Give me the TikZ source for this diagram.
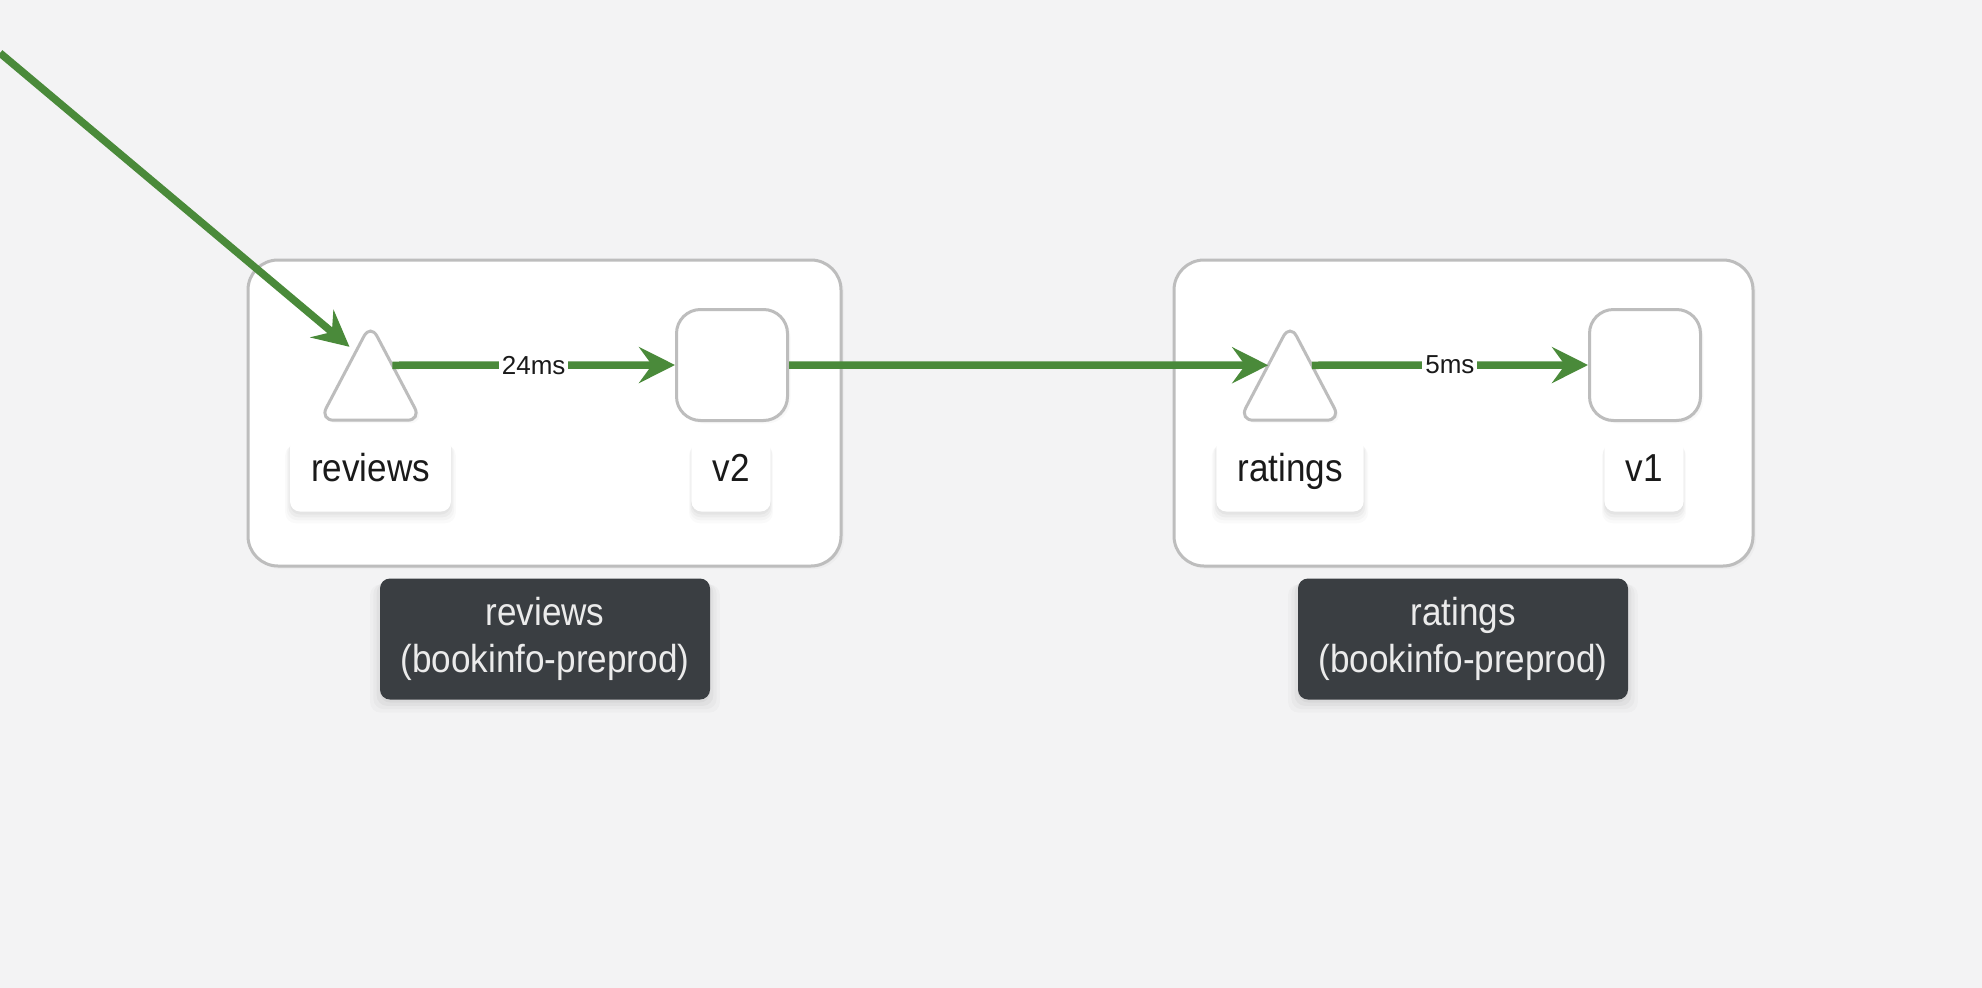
\documentclass[tikz,border=0pt]{standalone}
\usepackage{fontspec}
\setmainfont{Liberation Sans}
\newfontfamily\lblfont{Liberation Sans}[FakeStretch=0.9]
\usetikzlibrary{arrows.meta,shadows,calc}
\definecolor{bg}{HTML}{F3F3F4}
\definecolor{edgegreen}{HTML}{4A8A3A}
\definecolor{bordergray}{HTML}{BDBDBD}
\definecolor{darklbl}{HTML}{3A3E42}
\definecolor{darktext}{HTML}{EBEBEB}
\definecolor{nodetext}{HTML}{1A1A1A}
\tikzset{
  softshadow/.style={
    drop shadow={shadow xshift=0pt, shadow yshift=-9pt, shadow scale=1.06, opacity=0.02, fill=black},
    drop shadow={shadow xshift=0pt, shadow yshift=-7pt, shadow scale=1.04, opacity=0.025, fill=black},
    drop shadow={shadow xshift=0pt, shadow yshift=-5pt, shadow scale=1.02, opacity=0.03, fill=black},
    drop shadow={shadow xshift=0pt, shadow yshift=-3pt, shadow scale=1.0, opacity=0.03, fill=black}},
  lightshadow/.style={
    drop shadow={shadow xshift=3pt, shadow yshift=-3pt, opacity=0.025, fill=black},
    drop shadow={shadow xshift=1.5pt, shadow yshift=-1.5pt, opacity=0.03, fill=black}},
  groupbox/.style={draw=bordergray, line width=3pt, fill=white, rounded corners=30pt, inner sep=0pt, lightshadow},
  svcbox/.style={draw=bordergray, line width=3pt, fill=white, rounded corners=24pt,
    minimum width=111pt, minimum height=111pt, inner sep=0pt, lightshadow},
  tribox/.style={inner sep=0pt, minimum width=101pt, minimum height=96pt},
  triline/.style={draw=bordergray, line width=3pt, fill=white, rounded corners=14pt, lightshadow},
  namelbl/.style={fill=white, rounded corners=10pt, minimum height=74pt, inner xsep=21pt,
    text height=24pt, text depth=10pt,
    font=\lblfont\fontsize{39}{47}\selectfont, text=nodetext, softshadow},
  nslbl/.style={fill=darklbl, rounded corners=10pt, minimum width=330pt, minimum height=121pt,
    align=center, font=\lblfont\fontsize{39}{47}\selectfont, text=darktext, softshadow},
  flow/.style={draw=edgegreen, line width=7.5pt, -{Stealth[length=36pt, width=36pt, inset=13pt]}},
  edgelbl/.style={fill=white, inner sep=3pt, font=\fontsize{26}{30}\selectfont, text=nodetext}
}
\begin{document}
\begin{tikzpicture}[x=1pt, y=-1pt]
\useasboundingbox (0,0) rectangle (1982,988);
\fill[bg] (0,0) rectangle (1982,988);

% group boxes
\node[groupbox, minimum width=593pt, minimum height=306pt] (grp1) at (544.5,413) {};
\node[groupbox, minimum width=579pt, minimum height=306pt] (grp2) at (1463.5,413) {};

% service triangles
\node[tribox] (rvtri) at (370.5,372) {};
\draw[triline] (rvtri.south) -- (rvtri.south east) -- (rvtri.north) -- (rvtri.south west) -- cycle;
\node[tribox] (rttri) at (1290,372) {};
\draw[triline] (rttri.south) -- (rttri.south east) -- (rttri.north) -- (rttri.south west) -- cycle;

% workload squares
\node[svcbox] (v2) at (732,365) {};
\node[svcbox] (v1) at (1645,365) {};

% name labels
\node[namelbl] (rvname) at (370.5,474.5) {reviews};
\node[namelbl] (v2name) at (731,474.5) {v2};
\node[namelbl] (rtname) at (1290,474.5) {ratings};
\node[namelbl] (v1name) at (1644,474.5) {v1};

% namespace labels
\node[nslbl] (ns1) at (545,639) {reviews\\(bookinfo-preprod)};
\node[nslbl] (ns2) at (1463,639) {ratings\\(bookinfo-preprod)};

% connector end points on the triangles
\coordinate (src) at (0,53);
\coordinate (rvin) at ($(rvtri.north)+(-21,23)$);
\coordinate (rvout) at ($(rvtri.north)!0.43!(rvtri.south east)$);
\coordinate (rtin) at ($(rttri.north)!0.43!(rttri.south west)$);
\coordinate (rtout) at ($(rttri.north)!0.43!(rttri.south east)$);

% edges
\draw[flow] (src) -- (rvin);
\draw[flow] (rvout) -- node[edgelbl] (l24) {24ms} (v2.west);
\draw[flow] (v2.east) -- (rtin);
\draw[flow] (rtout) -- node[edgelbl] (l5) {5ms} (v1.west);
\end{tikzpicture}
\end{document}
